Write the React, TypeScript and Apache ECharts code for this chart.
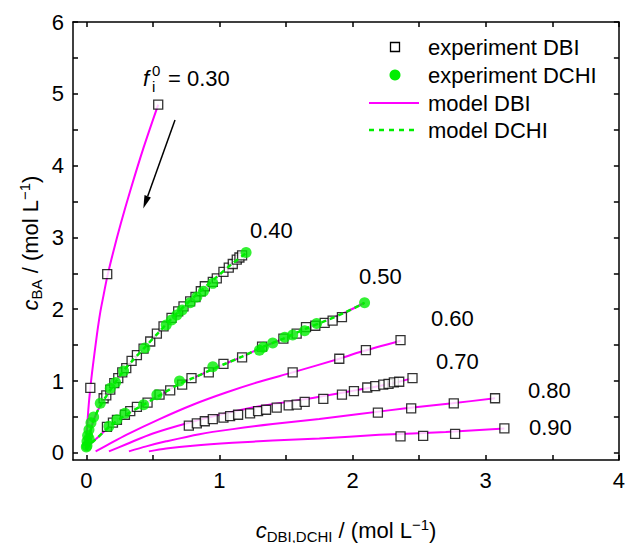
import React, { useEffect, useRef } from 'react';
import * as echarts from 'echarts';

const FONT = '"Liberation Sans", Arial, Helvetica, sans-serif';

// tick positions / labels
const xLabelValues = [0, 1, 2, 3, 4];
const xTickValues = [0, 0.5, 1, 1.5, 2, 2.5, 3, 3.5, 4];
const yLabelValues = [0, 1, 2, 3, 4, 5, 6];
const yTickValues = [0, 0.5, 1, 1.5, 2, 2.5, 3, 3.5, 4, 4.5, 5, 5.5, 6];

// experiment DBI (squares)
const exp30DBI = [[0.03, 0.905], [0.157, 2.49], [0.54, 4.85]];
const exp40DBI = [[0.13, 0.76], [0.15, 0.8], [0.18, 0.88], [0.21, 0.97], [0.24, 1.04], [0.27, 1.12], [0.3, 1.18], [0.34, 1.28], [0.38, 1.36], [0.43, 1.45], [0.48, 1.55], [0.53, 1.66], [0.58, 1.76], [0.64, 1.88], [0.69, 1.97], [0.73, 2.04], [0.78, 2.11], [0.82, 2.17], [0.86, 2.25], [0.89, 2.32], [0.95, 2.38], [0.98, 2.43], [1.03, 2.52], [1.07, 2.58], [1.1, 2.63], [1.13, 2.69], [1.15, 2.72], [1.17, 2.75]];
const exp50DBI = [[0.155, 0.36], [0.2, 0.42], [0.23, 0.46], [0.29, 0.53], [0.33, 0.58], [0.38, 0.64], [0.46, 0.7], [0.55, 0.81], [0.63, 0.87], [0.72, 0.95], [0.79, 1.04], [0.92, 1.12], [1.03, 1.24], [1.17, 1.33], [1.32, 1.48], [1.48, 1.59], [1.58, 1.66], [1.65, 1.75], [1.72, 1.77], [1.79, 1.81], [1.85, 1.84], [1.92, 1.89]];
const exp60DBI = [[1.55, 1.12], [1.9, 1.31], [2.1, 1.43], [2.36, 1.57]];
const exp70DBI = [[0.77, 0.38], [0.83, 0.41], [0.89, 0.44], [0.95, 0.47], [1.03, 0.49], [1.08, 0.51], [1.14, 0.53], [1.23, 0.55], [1.29, 0.58], [1.35, 0.6], [1.43, 0.63], [1.52, 0.66], [1.58, 0.67], [1.64, 0.71], [1.78, 0.75], [1.92, 0.81], [2.01, 0.86], [2.11, 0.91], [2.17, 0.93], [2.23, 0.95], [2.27, 0.96], [2.31, 0.98], [2.35, 0.99], [2.45, 1.04]];
const exp80DBI = [[2.19, 0.56], [2.44, 0.62], [2.76, 0.69], [3.07, 0.76]];
const exp90DBI = [[2.36, 0.23], [2.53, 0.235], [2.77, 0.265], [3.14, 0.34]];

// experiment DCHI (circles)
const exp40DCHI = [[0, 0.08], [0.005, 0.16], [0.01, 0.24], [0.02, 0.32], [0.035, 0.42], [0.055, 0.5], [0.105, 0.69], [0.18, 0.9], [0.22, 0.98], [0.28, 1.14], [0.44, 1.46], [0.6, 1.78], [0.64, 1.85], [0.68, 1.92], [0.72, 1.99], [0.78, 2.09], [0.83, 2.17], [0.88, 2.25], [0.95, 2.36], [1.2, 2.79]];
const exp50DCHI = [[0.005, 0.1], [0.02, 0.2], [0.17, 0.37], [0.23, 0.46], [0.29, 0.55], [0.43, 0.67], [0.53, 0.81], [0.7, 1.0], [0.95, 1.2], [1.3, 1.43], [1.33, 1.47], [1.4, 1.53], [1.49, 1.61], [1.55, 1.64], [1.64, 1.7], [1.73, 1.8], [2.09, 2.09]];

// model DBI (magenta lines)
const model30 = [[0, 0.05], [0.005, 0.3], [0.015, 0.6], [0.03, 0.9], [0.05, 1.22], [0.08, 1.65], [0.105, 1.96], [0.13, 2.2], [0.157, 2.45], [0.2, 2.78], [0.26, 3.2], [0.33, 3.65], [0.43, 4.25], [0.54, 4.85]];
const model40 = [[0, 0.05], [0.01, 0.15], [0.03, 0.3], [0.06, 0.48], [0.1, 0.64], [0.15, 0.79], [0.2, 0.93], [0.27, 1.12], [0.35, 1.29], [0.45, 1.49], [0.55, 1.69], [0.64, 1.87], [0.74, 2.05], [0.85, 2.24], [0.98, 2.45], [1.1, 2.64], [1.2, 2.78]];
const model50 = [[0, 0.04], [0.03, 0.12], [0.09, 0.22], [0.17, 0.36], [0.29, 0.52], [0.42, 0.66], [0.55, 0.8], [0.7, 0.96], [0.8, 1.04], [0.92, 1.14], [1.03, 1.23], [1.17, 1.34], [1.32, 1.47], [1.48, 1.59], [1.65, 1.73], [1.8, 1.84], [1.95, 1.96], [2.09, 2.09]];
const model60 = [[0.07, 0.02], [0.15, 0.1], [0.3, 0.25], [0.55, 0.47], [0.8, 0.67], [1.05, 0.84], [1.3, 0.99], [1.55, 1.12], [1.9, 1.31], [2.05, 1.4], [2.36, 1.56]];
const model70 = [[0.17, 0.02], [0.3, 0.12], [0.5, 0.27], [0.77, 0.42], [1.05, 0.55], [1.3, 0.65], [1.55, 0.72], [1.75, 0.78], [2.05, 0.88], [2.3, 0.97], [2.43, 1.03]];
const model80 = [[0.32, 0.02], [0.45, 0.09], [0.6, 0.16], [0.85, 0.26], [1.1, 0.33], [1.4, 0.4], [1.75, 0.47], [2.05, 0.54], [2.4, 0.62], [2.75, 0.69], [3.07, 0.76]];
const model90 = [[0.47, 0.02], [0.6, 0.06], [0.8, 0.1], [1.1, 0.14], [1.4, 0.17], [1.75, 0.2], [2.2, 0.25], [2.7, 0.29], [3.14, 0.34]];

// model DCHI (green dashed)
const modelDCHI40 = [[0, 0.05], [0.01, 0.15], [0.03, 0.3], [0.06, 0.48], [0.1, 0.64], [0.15, 0.79], [0.2, 0.93], [0.27, 1.12], [0.35, 1.29], [0.45, 1.49], [0.55, 1.69], [0.64, 1.87], [0.74, 2.05], [0.85, 2.24], [0.98, 2.45], [1.1, 2.64], [1.2, 2.78]];
const modelDCHI50 = [[0, 0.04], [0.03, 0.12], [0.09, 0.22], [0.17, 0.36], [0.29, 0.52], [0.42, 0.66], [0.55, 0.8], [0.7, 0.96], [0.8, 1.04], [0.92, 1.14], [1.03, 1.23], [1.17, 1.34], [1.32, 1.47], [1.48, 1.59], [1.65, 1.73], [1.8, 1.84], [1.95, 1.96], [2.09, 2.09]];

const seriesLabels = ['0.40', '0.50', '0.60', '0.70', '0.80', '0.90'];

const MAGENTA = '#ff00ff';
const GREEN = '#00ee00';

export default function App() {
  const ref = useRef<HTMLDivElement>(null);

  useEffect(() => {
    const chart = echarts.init(ref.current!, null, { renderer: 'svg' });

    const axisLine = { show: true, onZero: false, lineStyle: { color: '#000', width: 1.5 } };
    const mkX = (position: string, show: boolean) => ({
      type: 'value', position, min: -0.1, max: 4,
      axisLine,
      axisTick: { show: true, inside: true, length: 5, customValues: xTickValues, lineStyle: { color: '#000', width: 1.5 } },
      axisLabel: { show, customValues: xLabelValues, fontSize: 22, color: '#000', fontFamily: FONT, margin: 9 },
      splitLine: { show: false },
    });
    const mkY = (position: string, show: boolean) => ({
      type: 'value', position, min: -0.1, max: 6,
      axisLine,
      axisTick: { show: true, inside: true, length: 5, customValues: yTickValues, lineStyle: { color: '#000', width: 1.5 } },
      axisLabel: { show, customValues: yLabelValues, fontSize: 22, color: '#000', fontFamily: FONT, margin: 9 },
      splitLine: { show: false },
    });

    const line = (data: number[][]) => ({
      type: 'line', data, showSymbol: false, smooth: 0.3, silent: true, z: 2,
      lineStyle: { color: MAGENTA, width: 2 },
    });
    const dashed = (data: number[][]) => ({
      type: 'line', data, showSymbol: false, smooth: 0.3, silent: true, z: 5,
      lineStyle: { color: GREEN, width: 2.5, type: [5, 4] },
    });
    const squares = (data: number[][]) => ({
      type: 'scatter', data, symbol: 'rect', symbolSize: 9, silent: true, z: 3,
      itemStyle: { color: '#fff', borderColor: '#000', borderWidth: 1.3 },
    });
    const circles = (data: number[][]) => ({
      type: 'scatter', data, symbol: 'circle', symbolSize: 11, silent: true, z: 4,
      itemStyle: { color: GREEN },
    });

    const rich = {
      i: { fontStyle: 'italic', fontSize: 22, lineHeight: 26, fontFamily: FONT },
      s: { fontSize: 15, lineHeight: 15, padding: [12, 0, 0, 0], fontFamily: FONT },
      p: { fontSize: 15, lineHeight: 15, padding: [0, 0, 11, 0], fontFamily: FONT },
      n: { fontSize: 22, lineHeight: 26, fontFamily: FONT },
    };

    const txt = (x: number, y: number, text: string) => ({
      type: 'text', x, y,
      style: { text, fontSize: 22, fontFamily: FONT, fill: '#000', verticalAlign: 'middle', align: 'left' },
    });

    const labelPos = [[250, 230], [359, 276], [431, 318], [436, 361], [528, 390], [529, 427]];

    const legendRows = [47, 75, 103, 130];

    chart.setOption({
      animation: false,
      grid: { left: 73, top: 22, width: 548, height: 438 },
      xAxis: [mkX('bottom', true), mkX('top', false)],
      yAxis: [mkY('left', true), mkY('right', false)],
      series: [
        line(model30), line(model40), line(model50), line(model60), line(model70), line(model80), line(model90),
        squares(exp30DBI), squares(exp40DBI), squares(exp50DBI), squares(exp60DBI), squares(exp70DBI), squares(exp80DBI), squares(exp90DBI),
        circles(exp40DCHI), circles(exp50DCHI),
        dashed(modelDCHI40), dashed(modelDCHI50),
      ],
      graphic: [
        // axis titles
        {
          type: 'text', x: 30, y: 243, rotation: Math.PI / 2,
          style: { text: '{i|c}{s|BA}{n| / (mol L}{p|−1}{n|)}', rich, fill: '#000', align: 'center', verticalAlign: 'middle' },
        },
        {
          type: 'text', x: 346, y: 530,
          style: { text: '{i|c}{s|DBI,DCHI}{n| / (mol L}{p|−1}{n|)}', rich, fill: '#000', align: 'center', verticalAlign: 'middle' },
        },
        // f_i^0 = 0.30
        { type: 'text', x: 143, y: 78, style: { text: 'f', fontSize: 22, fontStyle: 'italic', fontFamily: FONT, fill: '#000', verticalAlign: 'middle' } },
        { type: 'text', x: 152, y: 86, style: { text: 'i', fontSize: 15, fontFamily: FONT, fill: '#000', verticalAlign: 'middle' } },
        { type: 'text', x: 152, y: 70, style: { text: '0', fontSize: 15, fontFamily: FONT, fill: '#000', verticalAlign: 'middle' } },
        txt(168, 78, '= 0.30'),
        ...seriesLabels.map((t, k) => txt(labelPos[k][0], labelPos[k][1], t)),
        // arrow
        { type: 'line', shape: { x1: 175, y1: 120, x2: 147.7, y2: 196.3 }, style: { stroke: '#000', lineWidth: 1.5 } },
        { type: 'polygon', shape: { points: [[143.3, 208.5], [150.9, 197.5], [144.5, 195.1]] }, style: { fill: '#000' } },
        // legend
        { type: 'rect', shape: { x: 390.5, y: legendRows[0] - 4.5, width: 9, height: 9 }, style: { fill: '#fff', stroke: '#000', lineWidth: 1.3 } },
        { type: 'circle', shape: { cx: 395, cy: legendRows[1], r: 5.5 }, style: { fill: GREEN } },
        { type: 'line', shape: { x1: 369, y1: legendRows[2], x2: 419, y2: legendRows[2] }, style: { stroke: MAGENTA, lineWidth: 2 } },
        { type: 'line', shape: { x1: 369, y1: legendRows[3], x2: 419, y2: legendRows[3] }, style: { stroke: GREEN, lineWidth: 2.5, lineDash: [5, 5] } },
        txt(428, legendRows[0], 'experiment DBI'),
        txt(428, legendRows[1], 'experiment DCHI'),
        txt(428, legendRows[2], 'model DBI'),
        txt(428, legendRows[3], 'model DCHI'),
      ],
    });

    return () => chart.dispose();
  }, []);

  return <div ref={ref} style={{ position: 'fixed', left: 0, top: 0, width: 628, height: 543, background: '#fff' }} />;
}
